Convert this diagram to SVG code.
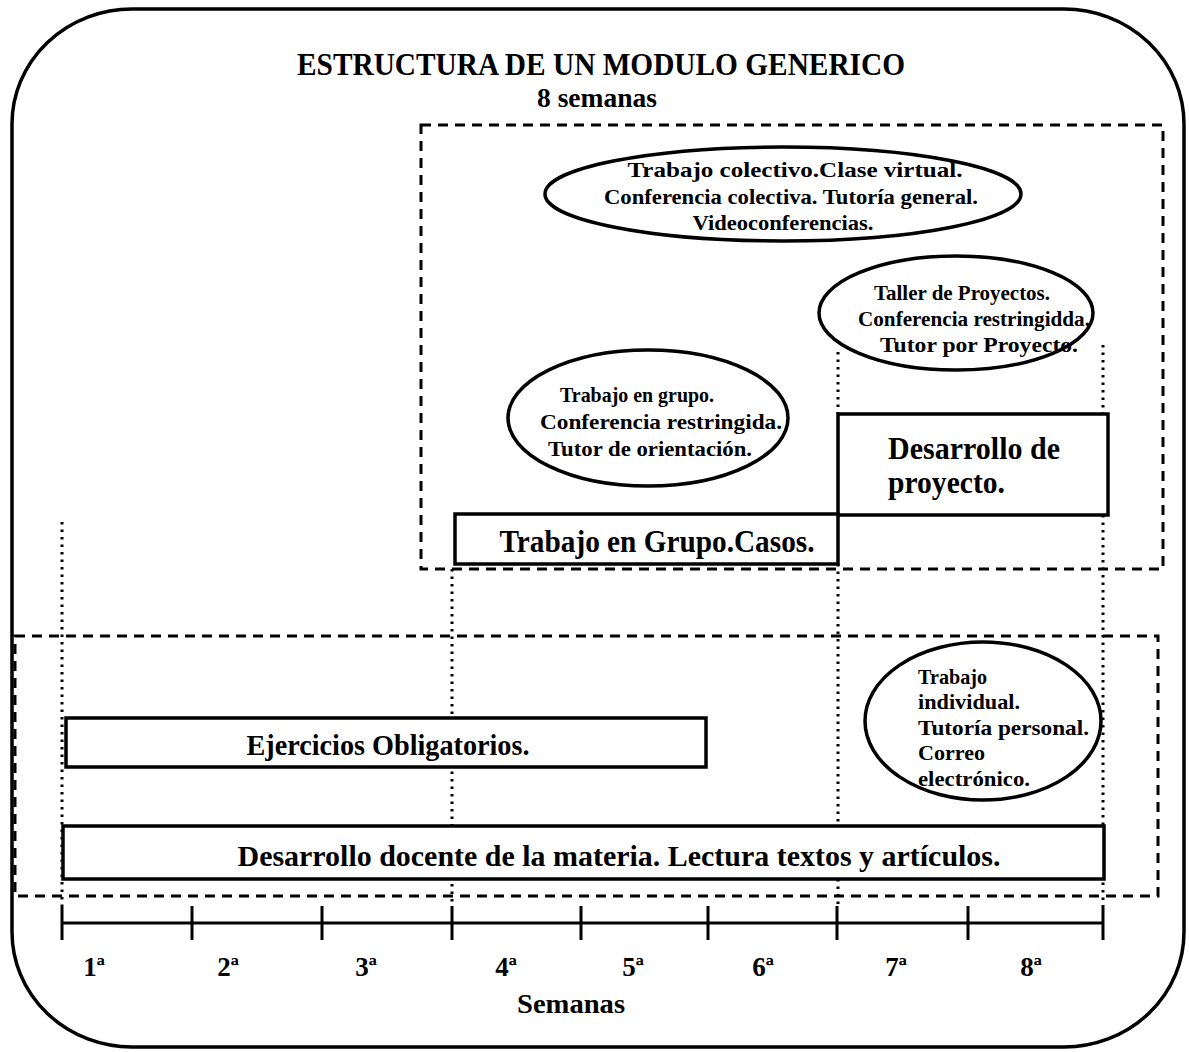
<svg xmlns="http://www.w3.org/2000/svg" width="1189" height="1052" viewBox="0 0 1189 1052">
<style>
.t{font-family:"Liberation Serif","Times New Roman",serif;font-weight:bold;fill:#000}
.frame{fill:none;stroke:#000;stroke-width:3.5}
.box{fill:#fff;stroke:#000;stroke-width:3.5}
.ell{fill:#fff;stroke:#000;stroke-width:3.5}
.dash{fill:none;stroke:#000;stroke-width:3;stroke-dasharray:10 7}
.dot{fill:none;stroke:#000;stroke-width:3;stroke-dasharray:2.5 5}
.axis{fill:none;stroke:#000;stroke-width:3}
</style>
<rect x="0" y="0" width="1189" height="1052" fill="#fff"/>
<rect class="frame" x="12" y="9" width="1172" height="1038" rx="120" ry="115"/>
<g id="title">
<text class="t" x="601" y="75" font-size="32" text-anchor="middle" textLength="608" lengthAdjust="spacingAndGlyphs">ESTRUCTURA DE UN MODULO GENERICO</text>
<text class="t" x="597" y="107" font-size="27" text-anchor="middle" textLength="120" lengthAdjust="spacingAndGlyphs">8 semanas</text>
</g>
<g id="zones">
<rect class="dash" x="421" y="125" width="742" height="444"/>
<rect class="dash" x="15" y="636" width="1143" height="260"/>
</g>
<g id="connectors">
<line class="dot" x1="62" y1="522" x2="62" y2="906"/>
<line class="dot" x1="452" y1="569" x2="452" y2="906"/>
<line class="dot" x1="838" y1="352" x2="838" y2="414"/>
<line class="dot" x1="838" y1="564" x2="838" y2="906"/>
<line class="dot" x1="1103" y1="345" x2="1103" y2="414"/>
<line class="dot" x1="1103" y1="515" x2="1103" y2="906"/>
</g>
<g id="n-colectivo">
<ellipse class="ell" cx="783" cy="194" rx="238" ry="47"/>
<text class="t" x="795" y="177" font-size="21" text-anchor="middle" textLength="335" lengthAdjust="spacingAndGlyphs">Trabajo colectivo.Clase virtual.</text>
<text class="t" x="791" y="204" font-size="21" text-anchor="middle" textLength="374" lengthAdjust="spacingAndGlyphs">Conferencia colectiva. Tutoría general.</text>
<text class="t" x="783" y="230" font-size="21" text-anchor="middle" textLength="181" lengthAdjust="spacingAndGlyphs">Videoconferencias.</text>
</g>
<g id="n-taller">
<ellipse class="ell" cx="956" cy="313" rx="137" ry="57"/>
<text class="t" x="962" y="300" font-size="21" text-anchor="middle" textLength="176" lengthAdjust="spacingAndGlyphs">Taller de Proyectos.</text>
<text class="t" x="974" y="326" font-size="21" text-anchor="middle" textLength="232" lengthAdjust="spacingAndGlyphs">Conferencia restringidda.</text>
<text class="t" x="979" y="352" font-size="21" text-anchor="middle" textLength="198" lengthAdjust="spacingAndGlyphs">Tutor  por Proyecto.</text>
</g>
<g id="n-grupo">
<ellipse class="ell" cx="648" cy="418" rx="140" ry="68"/>
<text class="t" x="637" y="402" font-size="21" text-anchor="middle" textLength="154" lengthAdjust="spacingAndGlyphs">Trabajo en grupo.</text>
<text class="t" x="661" y="429" font-size="21" text-anchor="middle" textLength="242" lengthAdjust="spacingAndGlyphs">Conferencia restringida.</text>
<text class="t" x="650" y="456" font-size="21" text-anchor="middle" textLength="204" lengthAdjust="spacingAndGlyphs">Tutor de orientación.</text>
</g>
<g id="n-desarrollo-proyecto">
<rect class="box" x="838" y="414" width="270" height="101"/>
<text class="t" x="888" y="459" font-size="32" textLength="172" lengthAdjust="spacingAndGlyphs">Desarrollo de</text>
<text class="t" x="888" y="493" font-size="32" textLength="117" lengthAdjust="spacingAndGlyphs">proyecto.</text>
</g>
<g id="n-casos">
<rect class="box" x="455" y="514" width="383" height="50"/>
<text class="t" x="657" y="552" font-size="32" text-anchor="middle" textLength="315" lengthAdjust="spacingAndGlyphs">Trabajo en Grupo.Casos.</text>
</g>
<g id="n-individual">
<ellipse class="ell" cx="983" cy="721" rx="118" ry="79"/>
<text class="t" x="918" y="684" font-size="21" textLength="69" lengthAdjust="spacingAndGlyphs">Trabajo</text>
<text class="t" x="918" y="709" font-size="21" textLength="102" lengthAdjust="spacingAndGlyphs">individual.</text>
<text class="t" x="918" y="735" font-size="21" textLength="171" lengthAdjust="spacingAndGlyphs">Tutoría personal.</text>
<text class="t" x="918" y="760" font-size="21" textLength="67" lengthAdjust="spacingAndGlyphs">Correo</text>
<text class="t" x="918" y="786" font-size="21" textLength="112" lengthAdjust="spacingAndGlyphs">electrónico.</text>
</g>
<g id="n-ejercicios">
<rect class="box" x="66" y="718" width="640" height="49"/>
<text class="t" x="388" y="755" font-size="30" text-anchor="middle" textLength="283" lengthAdjust="spacingAndGlyphs">Ejercicios Obligatorios.</text>
</g>
<g id="n-docente">
<rect class="box" x="63" y="826" width="1041" height="53"/>
<text class="t" x="619" y="866" font-size="30" text-anchor="middle" textLength="763" lengthAdjust="spacingAndGlyphs">Desarrollo docente de la materia. Lectura textos y artículos.</text>
</g>
<g id="axis">
<line class="axis" x1="62" y1="923" x2="1103" y2="923"/>
<path class="axis" d="M62 906V940M192 906V940M322 906V940M452 906V940M581 906V940M708 906V940M837 906V940M968 906V940M1103 906V940"/>
<g class="t" font-size="27" text-anchor="middle">
<text x="94" y="976">1ª</text>
<text x="228" y="976">2ª</text>
<text x="366" y="976">3ª</text>
<text x="506" y="976">4ª</text>
<text x="633" y="976">5ª</text>
<text x="763" y="976">6ª</text>
<text x="896" y="976">7ª</text>
<text x="1031" y="976">8ª</text>
</g>
<text class="t" x="571" y="1013" font-size="27" text-anchor="middle" textLength="108" lengthAdjust="spacingAndGlyphs">Semanas</text>
</g>
</svg>
